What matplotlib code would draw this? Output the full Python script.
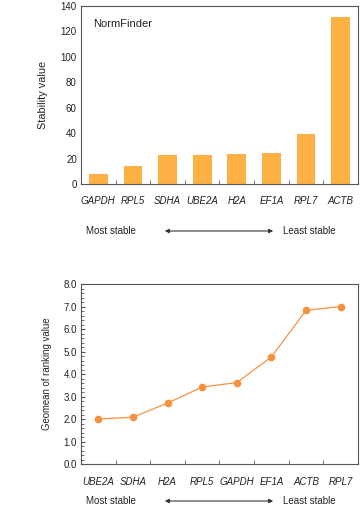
import matplotlib
matplotlib.use("Agg")
import matplotlib.pyplot as plt
import numpy as np
from matplotlib.ticker import MultipleLocator, FixedLocator

plt.rcParams['font.family'] = ['Liberation Sans', 'DejaVu Sans']
plt.rcParams['text.color'] = '#222222'
plt.rcParams['axes.labelcolor'] = '#222222'
plt.rcParams['xtick.labelcolor'] = '#222222'
plt.rcParams['ytick.labelcolor'] = '#222222'

# NormFinder stability values
genes_nf = ['GAPDH', 'RPL5', 'SDHA', 'UBE2A', 'H2A', 'EF1A', 'RPL7', 'ACTB']
stability = [7.5, 14.2, 22.6, 23.0, 23.6, 24.1, 39.0, 131.5]

# comprehensive ranking (geomean)
genes_rank = ['UBE2A', 'SDHA', 'H2A', 'RPL5', 'GAPDH', 'EF1A', 'ACTB', 'RPL7']
geomean = [2.0, 2.08, 2.71, 3.42, 3.62, 4.76, 6.83, 7.0]

bar_color = '#FDB044'
line_color = '#F5923E'
spine_color = '#555555'

fig = plt.figure(figsize=(3.64, 5.08), dpi=100)

def style_axes(ax, n):
    for s in ax.spines.values():
        s.set_color(spine_color)
        s.set_linewidth(0.8)
    ax.set_xlim(-0.5, n - 0.5)
    # category separator ticks
    ax.xaxis.set_major_locator(FixedLocator(np.arange(n)))
    ax.xaxis.set_minor_locator(FixedLocator(np.arange(0.5, n - 1, 1.0)))
    ax.tick_params(axis='x', which='major', length=0, pad=9, labelsize=7)
    ax.tick_params(axis='x', which='minor', direction='in', length=3, color=spine_color)
    ax.tick_params(axis='y', which='both', direction='in', color=spine_color, labelsize=7, pad=3)
    for lab in ax.get_xticklabels():
        lab.set_fontstyle('italic')

# top: bar chart
ax1 = fig.add_axes([0.2225, 0.6378, 0.761, 0.3504])
x = np.arange(len(genes_nf))
ax1.bar(x, stability, width=0.54, color=bar_color)
ax1.set_ylim(0, 140)
ax1.yaxis.set_major_locator(MultipleLocator(20))
ax1.set_xticks(x)
ax1.set_xticklabels(genes_nf)
style_axes(ax1, len(genes_nf))
ax1.tick_params(axis='y', which='major', length=0)
ax1.set_ylabel('Stability value', fontsize=7.8, labelpad=9)
ax1.text(0.045, 0.9, 'NormFinder', transform=ax1.transAxes, fontsize=8, va='center', ha='left')

# bottom: line chart
ax2 = fig.add_axes([0.2225, 0.0866, 0.761, 0.3543])
x2 = np.arange(len(genes_rank))
ax2.plot(x2, geomean, color=line_color, linewidth=0.9, marker='o', markersize=4.5)
ax2.set_ylim(0, 8)
ax2.yaxis.set_minor_locator(MultipleLocator(0.2))
ax2.set_yticks(np.arange(0, 9, 1.0))
ax2.set_yticklabels(['%.1f' % v for v in np.arange(0, 9, 1.0)])
ax2.set_xticks(x2)
ax2.set_xticklabels(genes_rank)
style_axes(ax2, len(genes_rank))
ax2.tick_params(axis='y', which='major', length=3)
ax2.tick_params(axis='y', which='minor', length=2)
ax2.set_ylabel('Geomean of ranking value', fontsize=6.9, labelpad=8)

# stability direction annotations
for yy in [1 - 231 / 508, 1 - 501 / 508]:
    fig.text(111 / 364, yy, 'Most stable', ha='center', va='center', fontsize=7)
    fig.text(309 / 364, yy, 'Least stable', ha='center', va='center', fontsize=7)
    fig.add_artist(matplotlib.patches.FancyArrowPatch(
        (162 / 364, yy), (276 / 364, yy), transform=fig.transFigure,
        arrowstyle='<|-|>', mutation_scale=6, color='#333333', linewidth=0.8))

fig.savefig('out.png', dpi=100)
